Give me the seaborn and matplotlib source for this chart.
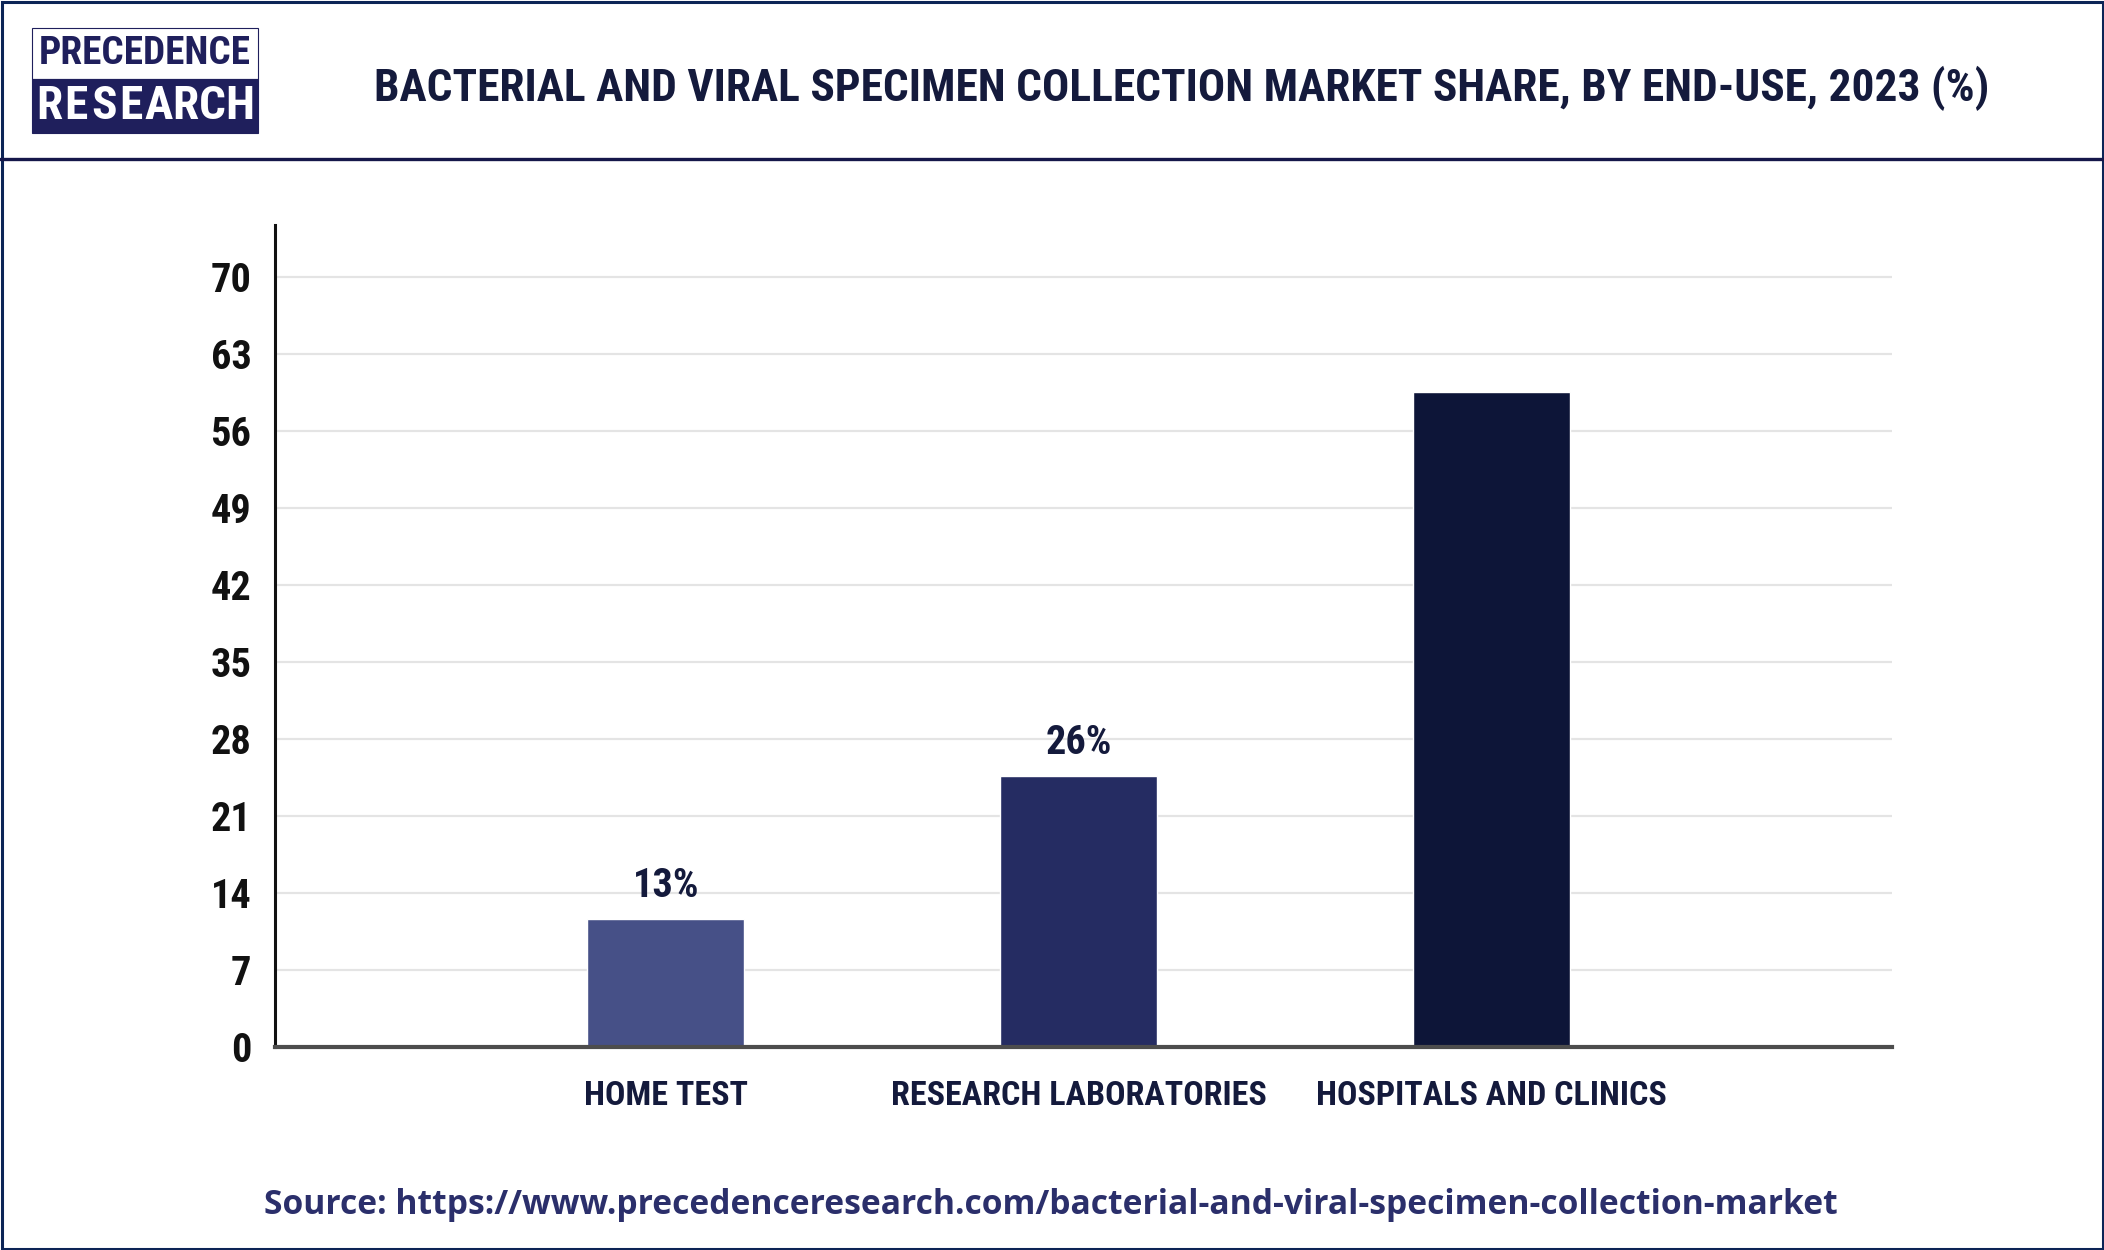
import matplotlib
matplotlib.use("Agg")
import matplotlib.pyplot as plt
import seaborn as sns
import pandas as pd
from matplotlib import font_manager
from matplotlib.patches import Rectangle

# data
categories = ["HOME TEST", "RESEARCH LABORATORIES", "HOSPITALS AND CLINICS"]
shares = [11.6, 24.6, 59.5]
bar_labels = ["13%", "26%", ""]
bar_colors = ["#465087", "#252c62", "#0d1538"]
y_ticks = [0, 7, 14, 21, 28, 35, 42, 49, 56, 63, 70]

title = "BACTERIAL AND VIRAL SPECIMEN COLLECTION MARKET SHARE, BY END-USE, 2023 (%)"
source = "Source: https://www.precedenceresearch.com/bacterial-and-viral-specimen-collection-market"

sns.set_theme(style="white")
installed = {f.name for f in font_manager.fontManager.ttflist}
narrow = next((n for n in ["Roboto Condensed", "Liberation Sans Narrow", "Open Sans Condensed"]
               if n in installed), "DejaVu Sans")
plt.rcParams["font.family"] = [narrow, "DejaVu Sans"]
plt.rcParams["font.stretch"] = "condensed"

NAVY = "#141a3c"
W, H = 2104, 1250
fig = plt.figure(figsize=(W / 100, H / 100), dpi=100)
fig.patch.set_facecolor("white")

# pixel-coordinate layer for the frame, header and source line
bg = fig.add_axes([0, 0, 1, 1], zorder=0)
bg.set_xlim(0, W)
bg.set_ylim(H, 0)
bg.axis("off")


def fit_width(txt, target, grow=False):
    r = fig.canvas.get_renderer()
    w = txt.get_window_extent(r).width
    if w > target or grow:
        txt.set_fontsize(txt.get_fontsize() * target / w)


bg.add_patch(Rectangle((1.5, 1.5), W - 3, H - 3, fill=False, ec="#0c2456", lw=2.2))
bg.plot([0, W], [159, 159], color="#15174a", lw=2.4)

# logo
bg.add_patch(Rectangle((32, 28), 226, 51, fc="white", ec="#1f1f5c", lw=0.8))
bg.add_patch(Rectangle((32, 79), 226, 54, fc="#1f1f5c", ec="#1f1f5c", lw=0.8))
t = bg.text(145, 54, "PRECEDENCE", ha="center", va="center", color="#1f1f5c",
            fontsize=38, fontweight="bold")
fit_width(t, 212)
for i, ch in enumerate("RESEARCH"):
    bg.text(49 + i * 27.3, 106, ch, ha="center", va="center", color="white",
            fontsize=34, fontweight="bold")

t = bg.text(1182, 88, title, ha="center", va="center", color=NAVY,
            fontsize=38, fontweight="bold")
fit_width(t, 1613)

t = bg.text(1051, 1205, source, ha="center", va="center", color="#2b2f6b",
            fontsize=22, fontweight="bold", family=["Open Sans", "DejaVu Sans"],
            fontstretch="normal")
fit_width(t, 1569, grow=True)

# main chart
ax = fig.add_axes([275 / W, (H - 1047) / H, (1892 - 275) / W, (1047 - 225) / H], zorder=1)
df = pd.DataFrame({"segment": categories, "share": shares})
sns.barplot(data=df, x="segment", y="share", hue="segment", palette=bar_colors,
            width=0.38, saturation=1, legend=False, ax=ax)
ax.set_facecolor("none")
ax.set_xlim(-0.946, 2.969)
ax.set_ylim(0, 74.7)
ax.set_yticks(y_ticks)
ax.set_xlabel("")
ax.set_ylabel("")
ax.yaxis.grid(True, color="#e4e4e4", lw=1.6)
ax.set_axisbelow(True)
for s in ["top", "right"]:
    ax.spines[s].set_visible(False)
ax.spines["left"].set_color("#111111")
ax.spines["left"].set_linewidth(2.2)
ax.spines["bottom"].set_color("#4d4d4d")
ax.spines["bottom"].set_linewidth(3)
ax.tick_params(axis="y", length=0, pad=17, labelsize=29, labelcolor="#111111")
ax.tick_params(axis="x", length=0, pad=24, labelsize=24.5, labelcolor=NAVY)
for lab in ax.get_yticklabels() + ax.get_xticklabels():
    lab.set_fontweight("bold")

for cont, lab in zip(ax.containers, bar_labels):
    ax.bar_label(cont, labels=[lab], padding=10, fontsize=29, fontweight="bold", color=NAVY)

fig.savefig("out.png", dpi=100)
